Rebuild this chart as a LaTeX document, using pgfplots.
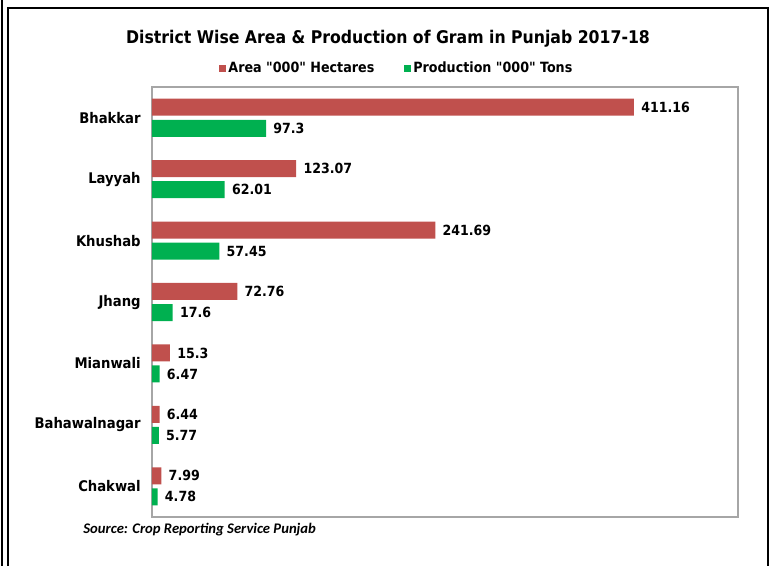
\documentclass[border=0pt]{standalone}
\usepackage{fontspec}
\setmainfont{DejaVu Sans Condensed}[Ligatures=TeXOff]
\newfontfamily\srcfont{Carlito}
\usepackage{pgfplots}
\pgfplotsset{compat=1.18}
\definecolor{areared}{HTML}{C0504D}
\definecolor{prodgreen}{HTML}{00B050}
\definecolor{boxgray}{HTML}{A6A6A6}

\begin{document}
\begin{tikzpicture}
  \useasboundingbox (0pt,0pt) rectangle (581.25pt,-423.75pt);
  % outer frame
  \draw[black,line width=0.9pt] (6pt,-430pt) -- (6pt,-6pt) -- (576pt,-6pt) -- (576pt,-430pt);
  \draw[black,line width=0.9pt] (1.5pt,0pt) -- (1.5pt,-430pt);

  \begin{axis}[
    at={(114pt,-387.75pt)}, anchor=south west,
    scale only axis,
    width=439.5pt, height=322.5pt,
    xbar, bar width=12.75pt,
    xmin=0, xmax=500,
    ymin=-0.5, ymax=6.5,
    y dir=reverse,
    xtick=\empty,
    ytick={0,1,2,3,4,5,6},
    yticklabels={Bhakkar,Layyah,Khushab,Jhang,Mianwali,Bahawalnagar,Chakwal},
    yticklabel style={font=\bfseries\fontsize{11pt}{13pt}\selectfont, xshift=-5pt},
    major tick length=0pt,
    axis line style={boxgray, line width=0.8pt},
    point meta=explicit symbolic,
    nodes near coords,
    every node near coord/.append style={font=\bfseries\fontsize{10.5pt}{12pt}\selectfont, anchor=west, xshift=2pt},
    legend columns=2,
    legend style={at={(0.418,1.044)}, anchor=center, draw=none, fill=none,
      font=\bfseries\fontsize{10.6pt}{12pt}\selectfont,
      /tikz/every even column/.append style={column sep=20pt}},
    legend image code/.code={\fill[#1] (0pt,-2.6pt) rectangle (5.2pt,2.6pt);},
  ]
  \addplot[fill=areared, draw=none, bar shift=7.9pt] coordinates {
    (411.16,0) [411.16]
    (123.07,1) [123.07]
    (241.69,2) [241.69]
    (72.76,3) [72.76]
    (15.3,4) [15.3]
    (6.44,5) [6.44]
    (7.99,6) [7.99]
  };
  \addlegendentry{Area "000" Hectares}
  \addplot[fill=prodgreen, draw=none, bar shift=-7.9pt] coordinates {
    (97.3,0) [97.3]
    (62.01,1) [62.01]
    (57.45,2) [57.45]
    (17.6,3) [17.6]
    (6.47,4) [6.47]
    (5.77,5) [5.77]
    (4.78,6) [4.78]
  };
  \addlegendentry{Production "000" Tons}
  \end{axis}

  \node[font=\bfseries\fontsize{13.1pt}{16pt}\selectfont] at (291pt,-29.25pt)
    {District Wise Area \& Production of Gram in Punjab 2017-18};
  \node[anchor=west, font=\srcfont\bfseries\itshape\fontsize{11pt}{13pt}\selectfont] at (59pt,-397.5pt)
    {Source: Crop Reporting Service Punjab};
\end{tikzpicture}
\end{document}
